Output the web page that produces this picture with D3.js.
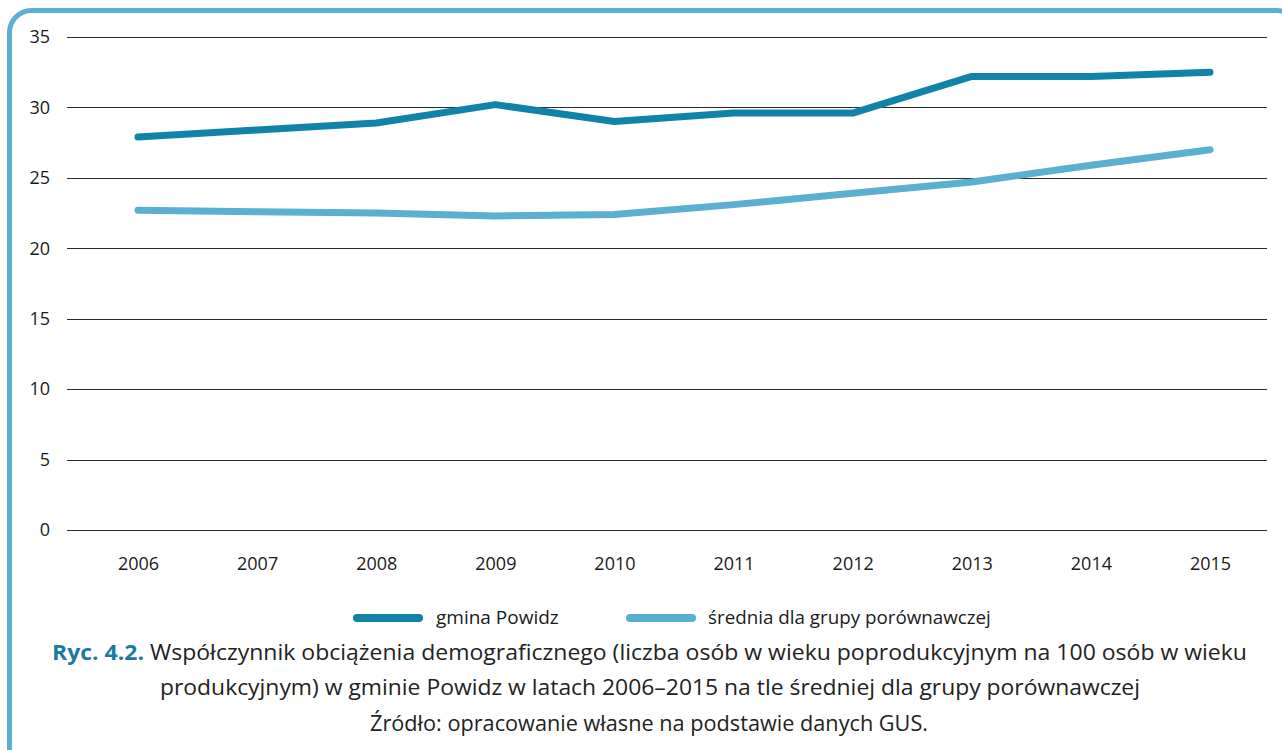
<!DOCTYPE html>
<html>
<head>
<meta charset="utf-8">
<script src="https://cdn.jsdelivr.net/npm/d3@7"></script>
<style>
  body { margin: 0; background: #fff; }
  svg { display: block; font-family: "Open Sans", sans-serif; }
</style>
</head>
<body>
<div class="chart"></div>
<script>
// data
const years = ["2006", "2007", "2008", "2009", "2010", "2011", "2012", "2013", "2014", "2015"];
const powidz = [27.9, 28.4, 28.9, 30.2, 29.0, 29.6, 29.6, 32.2, 32.2, 32.5];
const srednia = [22.7, 22.6, 22.5, 22.3, 22.4, 23.1, 23.9, 24.7, 25.9, 27.0];
const yTicks = [0, 5, 10, 15, 20, 25, 30, 35];
const seriesNames = ["gmina Powidz", "średnia dla grupy porównawczej"];
const colors = ["#1283a8", "#5bafd0"];

(function(){
    const svgWidth = 1282, svgHeight = 750;

    const svg = d3.select(".chart")
        .append("svg")
        .attr("width", svgWidth)
        .attr("height", svgHeight);

    // rounded frame
    svg.append("rect")
        .attr("x", 9.5).attr("y", 10.5)
        .attr("width", 1290).attr("height", 760)
        .attr("rx", 22).attr("ry", 22)
        .attr("fill", "none")
        .attr("stroke", "#5bafd0")
        .attr("stroke-width", 5);

    const gridLeft = 67, gridRight = 1267;

    const x = d3.scalePoint()
        .domain(years)
        .range([138, 1210]);

    const y = d3.scaleLinear()
        .domain([0, 35])
        .range([530, 37]);

    // gridlines
    svg.append("g")
        .selectAll("line")
        .data(yTicks)
        .enter()
        .append("line")
        .attr("x1", gridLeft)
        .attr("x2", gridRight)
        .attr("y1", d => Math.round(y(d)) + 0.5)
        .attr("y2", d => Math.round(y(d)) + 0.5)
        .attr("stroke", "#2a2a2a")
        .attr("stroke-width", 1);

    // y axis labels
    const leftAxis = d3.axisLeft(y).tickValues(yTicks).tickSize(0).tickPadding(0);
    const yAxis = svg.append("g")
        .attr("transform", "translate(50,0)")
        .call(leftAxis);
    yAxis.select(".domain").remove();
    yAxis.selectAll("text")
        .attr("font-family", "Open Sans, sans-serif")
        .attr("font-size", 18)
        .attr("fill", "#1a1a1a");

    // x axis labels
    const bottomAxis = d3.axisBottom(x).tickSize(0).tickPadding(0);
    const xAxis = svg.append("g")
        .attr("transform", "translate(0,557)")
        .call(bottomAxis);
    xAxis.select(".domain").remove();
    xAxis.selectAll("text")
        .attr("font-family", "Open Sans, sans-serif")
        .attr("font-size", 18)
        .attr("fill", "#1a1a1a");

    // lines
    const line = d3.line()
        .x((d, i) => x(years[i]))
        .y(d => y(d));

    [powidz, srednia].forEach(function(s, i) {
        svg.append("path")
            .datum(s)
            .attr("d", line)
            .attr("fill", "none")
            .attr("stroke", colors[i])
            .attr("stroke-width", 7)
            .attr("stroke-linecap", "round")
            .attr("stroke-linejoin", "round");
    });

    // legend
    const legendX = [357, 630];
    const legendTextX = [436, 708];
    const legendFont = [19, 18.8];
    const legend = svg.append("g");
    seriesNames.forEach(function(name, i) {
        legend.append("line")
            .attr("x1", legendX[i]).attr("x2", legendX[i] + 62)
            .attr("y1", 618).attr("y2", 618)
            .attr("stroke", colors[i])
            .attr("stroke-width", 8)
            .attr("stroke-linecap", "round");
        legend.append("text")
            .attr("x", legendTextX[i])
            .attr("y", 624)
            .attr("font-size", legendFont[i])
            .attr("fill", "#1a1a1a")
            .text(name);
    });

    // caption
    const cap = svg.append("text")
        .attr("x", 52).attr("y", 660)
        .attr("font-size", 22)
        .attr("textLength", 1195)
        .attr("lengthAdjust", "spacingAndGlyphs")
        .attr("fill", "#222");
    cap.append("tspan")
        .attr("font-weight", "bold")
        .attr("fill", "#1a7a9f")
        .text("Ryc. 4.2.");
    cap.append("tspan")
        .text(" Współczynnik obciążenia demograficznego (liczba osób w wieku poprodukcyjnym na 100 osób w wieku");

    svg.append("text")
        .attr("x", 160).attr("y", 695)
        .attr("font-size", 22)
        .attr("textLength", 980)
        .attr("lengthAdjust", "spacingAndGlyphs")
        .attr("fill", "#222")
        .text("produkcyjnym) w gminie Powidz w latach 2006–2015 na tle średniej dla grupy porównawczej");

    svg.append("text")
        .attr("x", 370).attr("y", 731)
        .attr("font-size", 21)
        .attr("textLength", 558)
        .attr("lengthAdjust", "spacingAndGlyphs")
        .attr("fill", "#222")
        .text("Źródło: opracowanie własne na podstawie danych GUS.");
})();
</script>
</body>
</html>
